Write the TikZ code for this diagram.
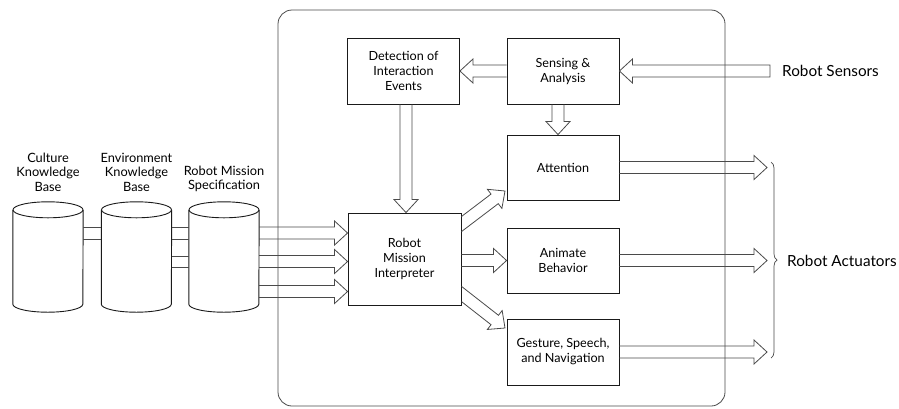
\documentclass[tikz,border=0pt]{standalone}
\usepackage{fontspec}
\setmainfont{Lato}
\usetikzlibrary{calc,decorations.pathreplacing}
\definecolor{arrcol}{HTML}{4A4A4A}
\definecolor{boxcol}{HTML}{1A1A1A}
\tikzset{
  blk/.style={draw=boxcol, line width=0.9pt, minimum width=112pt, inner sep=0pt, align=center, font=\fontsize{12.6}{15}\selectfont},
  arr/.style={draw=arrcol, line width=0.8pt, line join=miter},
  cylline/.style={draw=boxcol, line width=0.9pt},
  frame/.style={draw=arrcol, line width=0.8pt, rounded corners=14pt},
  lbl/.style={align=center, font=\fontsize{12.8}{14.5}\selectfont, inner sep=0pt},
  biglbl/.style={font=\fontsize{15.3}{17}\selectfont, inner sep=0pt, anchor=west},
}
% fat hollow arrow from #2 to #3
\newcommand\fatarr[3][]{%
  \coordinate (faA) at #2; \coordinate (faB) at #3;
  \coordinate (faH) at ($(faB)!13pt!(faA)$);
  \draw[arr,#1] ($(faA)!6pt!90:(faB)$) -- ($(faH)!6pt!90:(faB)$) -- ($(faH)!12pt!90:(faB)$) -- (faB)
    -- ($(faH)!12pt!-90:(faB)$) -- ($(faH)!6pt!-90:(faB)$) -- ($(faA)!6pt!-90:(faB)$);
}
\newcommand\fatarrC[3][]{%
  \coordinate (faA) at #2; \coordinate (faB) at #3;
  \coordinate (faH) at ($(faB)!13pt!(faA)$);
  \draw[arr,#1] ($(faA)!6pt!90:(faB)$) -- ($(faH)!6pt!90:(faB)$) -- ($(faH)!12pt!90:(faB)$) -- (faB)
    -- ($(faH)!12pt!-90:(faB)$) -- ($(faH)!6pt!-90:(faB)$) -- ($(faA)!6pt!-90:(faB)$) -- cycle;
}
% fat arrow whose shaft starts on a vertical box edge (#4 -- #5)
\newcommand\fatarrE[5][]{%
  \coordinate (faA) at #2; \coordinate (faB) at #3;
  \coordinate (faH) at ($(faB)!13pt!(faA)$);
  \coordinate (faP) at ($(faH)!6pt!90:(faB)$);
  \coordinate (faQ) at ($(faA)!6pt!90:(faB)$);
  \coordinate (faR) at ($(faH)!6pt!-90:(faB)$);
  \coordinate (faS) at ($(faA)!6pt!-90:(faB)$);
  \coordinate (faE) at #4; \coordinate (faF) at #5;
  \draw[arr,#1] (intersection of faP--faQ and faE--faF) -- (faP) -- ($(faH)!12pt!90:(faB)$) -- (faB)
    -- ($(faH)!12pt!-90:(faB)$) -- (faR) -- (intersection of faR--faS and faE--faF);
}
\begin{document}
\begin{tikzpicture}[x=1pt,y=-1pt]
\useasboundingbox (0,0) rectangle (899,408);

% frame
\draw[frame] (278,10) rectangle (725,406);

% boxes
\node[blk, minimum height=66pt] (det) at (403.5,71) {Detection of\\Interaction\\Events};
\node[blk, minimum height=66pt] (sense) at (563,71) {Sensing \&\\Analysis};
\node[blk, minimum height=65pt] (att) at (563,167.5) {Attention};
\node[blk, minimum width=113pt, minimum height=92pt] (interp) at (404.5,259) {Robot\\Mission\\Interpreter};
\node[blk, minimum height=65pt] (anim) at (563,260.5) {Animate\\Behavior};
\node[blk, minimum height=66pt] (gest) at (563,352) {Gesture, Speech,\\and Navigation};

% cylinders
\newcommand\cyl[2]{%
  \node[minimum width=70pt, minimum height=110pt, inner sep=0pt] (#1) at (#2,257) {};
  \draw[cylline] ($(#1.north west)+(0,8)$) -- ($(#1.south west)+(0,-8)$)
     arc[start angle=180, end angle=360, x radius=35pt, y radius=8pt]
     -- ($(#1.north east)+(0,8)$);
  \draw[cylline] ($(#1.north)+(0,8)$) ellipse[x radius=35pt, y radius=8pt];
}
\cyl{cul}{48}
\cyl{env}{136.5}
\cyl{mis}{224}

\node[lbl] (culL) at (48,172) {Culture\\Knowledge\\Base};
\node[lbl] (envL) at (136.5,172) {Environment\\Knowledge\\Base};
\node[lbl] (misL) at (224,179) {Robot Mission\\Specification};

% row coordinates
\coordinate (ya) at (0,227);
\coordinate (yb) at (0,239);
\coordinate (yc) at (0,256);
\coordinate (yd) at (0,267);
\coordinate (m1) at (0,233);
\coordinate (m2) at (0,261.5);
\coordinate (m3) at (0,291.5);

% cylinder links
\draw[arr] (cul.east |- ya) -- (env.west |- ya);
\draw[arr] (cul.east |- yb) -- (env.west |- yb);
\draw[arr] (env.east |- ya) -- (mis.west |- ya);
\draw[arr] (env.east |- yb) -- (mis.west |- yb);
\draw[arr] (env.east |- yc) -- (mis.west |- yc);
\draw[arr] (env.east |- yd) -- (mis.west |- yd);

% mission -> interpreter
\fatarr{(mis.east |- m1)}{(interp.west |- m1)}
\fatarr{(mis.east |- m2)}{(interp.west |- m2)}
\fatarr{(mis.east |- m3)}{(interp.west |- m3)}

% sensors
\coordinate (sensin) at (770,71);
\fatarrC{(sensin)}{(sense.east)}
\node[biglbl] (sensL) at (782,71) {Robot Sensors};

% sensing -> detection, attention
\fatarr{(sense.west)}{(det.east)}
\coordinate (xs) at (558,0);
\fatarr{(sense.south -| xs)}{(att.north -| xs)}
\coordinate (xd) at (406,0);
\fatarr{(det.south -| xd)}{(interp.north -| xd)}

% interpreter -> outputs
\coordinate (d1s) at (461.5,224);
\coordinate (d1t) at (505,191);
\fatarrE{(d1s)}{(d1t)}{(interp.north east)}{(interp.south east)}
\fatarr{(interp.east |- anim.east)}{(anim.west)}
\coordinate (d2s) at (461.5,294);
\coordinate (d2t) at (505,328);
\fatarrE{(d2s)}{(d2t)}{(interp.north east)}{(interp.south east)}

% actuators
\coordinate (ax) at (767,0);
\coordinate (act1) at (att.east -| ax);
\coordinate (act2) at (anim.east -| ax);
\coordinate (act3) at (gest.east -| ax);
\fatarr{(att.east)}{(act1)}
\fatarr{(anim.east)}{(act2)}
\fatarr{(gest.east)}{(act3)}

\coordinate (brT) at (771,162);
\coordinate (brB) at (771,358);
\draw[arr, line width=0.7pt, decorate, decoration={brace, amplitude=6pt}] (brT) -- (brB);
\node[biglbl] (actL) at (787,261) {Robot Actuators};
\end{tikzpicture}
\end{document}
